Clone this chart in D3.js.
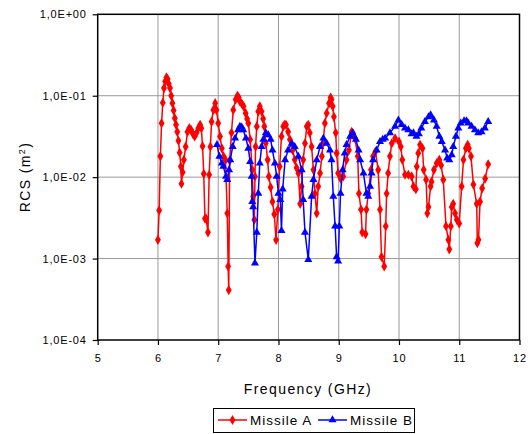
<!DOCTYPE html>
<html>
<head>
<meta charset="utf-8">
<script src="https://cdn.jsdelivr.net/npm/d3@7"></script>
<style>
  body { margin: 0; background: #fff; }
  text { font-family: "Liberation Sans", Arial, sans-serif; fill: #000; }
</style>
</head>
<body>
<script>
// chart values
const xTicks = [5, 6, 7, 8, 9, 10, 11, 12];
const yTicks = [1, 0.1, 0.01, 0.001, 0.0001];
const yTickLabels = ["1,0E+00", "1,0E-01", "1,0E-02", "1,0E-03", "1,0E-04"];
const seriesNames = ["Missile A", "Missile B"];

const freqA = [6.00, 6.02, 6.04, 6.06, 6.08, 6.10, 6.12, 6.14, 6.16, 6.18, 6.20, 6.22, 6.24, 6.26, 6.28, 6.30,
  6.32, 6.34, 6.36, 6.38, 6.39, 6.41, 6.43, 6.46, 6.49, 6.52, 6.55, 6.58, 6.61, 6.64, 6.67, 6.70, 6.72, 6.74,
  6.76, 6.78, 6.80, 6.83, 6.85, 6.87, 6.89, 6.92, 6.95, 6.97, 7.00, 7.03, 7.06, 7.09, 7.12, 7.15, 7.165, 7.175,
  7.19, 7.22, 7.25, 7.29, 7.32, 7.34, 7.36, 7.39, 7.42, 7.455, 7.48, 7.50, 7.53, 7.565, 7.58, 7.60, 7.61, 7.62,
  7.64, 7.665, 7.69, 7.72, 7.745, 7.765, 7.79, 7.82, 7.84, 7.87, 7.90, 7.93, 7.96, 7.99, 8.02, 8.05, 8.08, 8.10,
  8.125, 8.16, 8.19, 8.235, 8.27, 8.30, 8.33, 8.36, 8.385, 8.41, 8.44, 8.47, 8.495, 8.52, 8.55, 8.58, 8.605, 8.635,
  8.66, 8.69, 8.72, 8.74, 8.77, 8.80, 8.84, 8.865, 8.88, 8.90, 8.92, 8.95, 8.965, 8.99, 9.03, 9.075, 9.13, 9.17,
  9.215, 9.24, 9.27, 9.315, 9.335, 9.37, 9.39, 9.445, 9.46, 9.49, 9.535, 9.57, 9.61, 9.655, 9.685, 9.71, 9.755,
  9.78, 9.795, 9.82, 9.85, 9.88, 9.935, 10.00, 10.03, 10.055, 10.10, 10.155, 10.21, 10.24, 10.28, 10.295, 10.32,
  10.35, 10.39, 10.41, 10.45, 10.47, 10.49, 10.525, 10.54, 10.58, 10.625, 10.67, 10.70, 10.735, 10.78, 10.82,
  10.835, 10.86, 10.875, 10.90, 10.93, 10.96, 11.00, 11.04, 11.07, 11.11, 11.14, 11.16, 11.195, 11.235, 11.29,
  11.30, 11.32, 11.345, 11.38, 11.43, 11.48];
const rcsA = [0.0017, 0.0039, 0.018, 0.046, 0.082, 0.124, 0.15, 0.168, 0.16, 0.14, 0.124, 0.10, 0.081, 0.066, 0.053, 0.044,
  0.036, 0.028, 0.020, 0.0135, 0.0083, 0.0115, 0.0163, 0.0237, 0.036, 0.040, 0.038, 0.034, 0.0316, 0.035, 0.040, 0.044, 0.040, 0.024,
  0.011, 0.0031, 0.0031, 0.0021, 0.0107, 0.0237, 0.048, 0.067, 0.081, 0.067, 0.046, 0.0316, 0.0226, 0.0179, 0.0163, 0.0036, 0.0008, 0.00041,
  0.016, 0.035, 0.067, 0.09, 0.10, 0.095, 0.085, 0.08, 0.074, 0.061, 0.052, 0.046, 0.029, 0.0123, 0.0058, 0.0030, 0.0102, 0.0237,
  0.042, 0.064, 0.074, 0.064, 0.052, 0.042, 0.026, 0.0163, 0.0102, 0.0075, 0.005, 0.0035, 0.0017, 0.004, 0.0135, 0.0316, 0.042, 0.044,
  0.044, 0.036, 0.029, 0.0215, 0.0163, 0.013, 0.0112, 0.0047, 0.0077, 0.0163, 0.026, 0.042, 0.044, 0.035, 0.0237, 0.0123, 0.0063, 0.0036,
  0.0077, 0.0112, 0.018, 0.026, 0.046, 0.061, 0.081, 0.095, 0.09, 0.074, 0.055, 0.035, 0.0197, 0.0112, 0.0096, 0.0102, 0.0163, 0.0215,
  0.036, 0.034, 0.030, 0.018, 0.0063, 0.004, 0.0021, 0.0020, 0.004, 0.0063, 0.0123, 0.018, 0.0206, 0.0123, 0.004, 0.00105, 0.0008,
  0.0025, 0.0063, 0.0112, 0.018, 0.026, 0.030, 0.0273, 0.0237, 0.0163, 0.0107, 0.0107, 0.0102, 0.0077, 0.0071, 0.0135, 0.0197,
  0.025, 0.0226, 0.0123, 0.0093, 0.0036, 0.0043, 0.0077, 0.0088, 0.0123, 0.0148, 0.0163, 0.014, 0.0093, 0.0025, 0.0017,
  0.0013, 0.0025, 0.0043, 0.0047, 0.0036, 0.0030, 0.0027, 0.0077, 0.0163, 0.0226, 0.025, 0.0226, 0.018, 0.0081, 0.0047,
  0.00155, 0.0017, 0.005, 0.0073, 0.0096, 0.0144];

const freqB = [6.98, 7.02, 7.06, 7.085, 7.13, 7.15, 7.18, 7.20, 7.24, 7.28, 7.33, 7.36, 7.39, 7.415, 7.46, 7.50,
  7.53, 7.555, 7.565, 7.58, 7.61, 7.64, 7.665, 7.69, 7.72, 7.75, 7.79, 7.83, 7.87, 7.90, 7.94, 7.97, 8.00, 8.03,
  8.05, 8.07, 8.11, 8.16, 8.22, 8.27, 8.33, 8.385, 8.41, 8.44, 8.495, 8.55, 8.58, 8.635, 8.69, 8.745, 8.80, 8.855,
  8.88, 8.91, 8.94, 8.965, 8.99, 9.01, 9.03, 9.065, 9.10, 9.13, 9.19, 9.23, 9.285, 9.33, 9.355, 9.41, 9.46, 9.49,
  9.52, 9.545, 9.57, 9.63, 9.685, 9.73, 9.77, 9.85, 9.935, 9.99, 10.045, 10.10, 10.155, 10.21, 10.24, 10.29, 10.33,
  10.37, 10.43, 10.49, 10.525, 10.58, 10.625, 10.67, 10.71, 10.765, 10.80, 10.835, 10.875, 10.90, 10.945, 10.985,
  11.025, 11.08, 11.12, 11.15, 11.205, 11.26, 11.315, 11.37, 11.425, 11.48];
const rcsB = [0.025, 0.018, 0.0148, 0.0135, 0.0102, 0.0093, 0.0123, 0.0163, 0.0237, 0.030, 0.038, 0.042, 0.041, 0.038, 0.030, 0.0226,
  0.0155, 0.0102, 0.005, 0.0043, 0.00088, 0.0021, 0.0063, 0.0148, 0.0237, 0.029, 0.035, 0.033, 0.029, 0.0215, 0.0148, 0.0102, 0.0063, 0.0053,
  0.0022, 0.0071, 0.0163, 0.0215, 0.026, 0.0237, 0.018, 0.0123, 0.0053, 0.0021, 0.00097, 0.0058, 0.0093, 0.0163, 0.0237, 0.030, 0.026, 0.0215,
  0.0163, 0.0058, 0.0025, 0.00105, 0.00093, 0.0025, 0.0063, 0.0123, 0.0197, 0.025, 0.0316, 0.035, 0.029, 0.0215, 0.0163, 0.0112, 0.0063, 0.0058,
  0.0077, 0.0112, 0.0163, 0.0215, 0.0273, 0.029, 0.030, 0.035, 0.042, 0.050, 0.044, 0.040, 0.038, 0.034, 0.035, 0.0316, 0.034,
  0.040, 0.048, 0.055, 0.058, 0.050, 0.042, 0.0316, 0.0273, 0.0215, 0.0171, 0.0163, 0.0187, 0.0237, 0.0316, 0.040,
  0.046, 0.049, 0.049, 0.046, 0.042, 0.038, 0.035, 0.036, 0.040, 0.048];

const width = 530, height = 434;
const plot = { left: 97.7, right: 519.5, top: 14.3, bottom: 340 };

const svg = d3.select("body").append("svg")
  .attr("width", width)
  .attr("height", height);

const x = d3.scaleLinear().domain([5, 12]).range([plot.left, plot.right]);
const y = d3.scaleLog().domain([1e-4, 1]).range([plot.bottom, plot.top]);

// grid lines
svg.append("g").selectAll("line.vx")
  .data(xTicks.slice(1, -1))
  .join("line")
  .attr("x1", d => x(d)).attr("x2", d => x(d))
  .attr("y1", plot.top).attr("y2", plot.bottom)
  .attr("stroke", "#999").attr("stroke-width", 1);
svg.append("g").selectAll("line.hy")
  .data(yTicks.slice(1, -1))
  .join("line")
  .attr("x1", plot.left).attr("x2", plot.right)
  .attr("y1", d => y(d)).attr("y2", d => y(d))
  .attr("stroke", "#999").attr("stroke-width", 1);

// frame
svg.append("rect")
  .attr("x", plot.left).attr("y", plot.top)
  .attr("width", plot.right - plot.left).attr("height", plot.bottom - plot.top)
  .attr("fill", "none").attr("stroke", "#000").attr("stroke-width", 1.5);

// axes
const xAxis = svg.append("g")
  .attr("transform", `translate(0,${plot.bottom})`)
  .call(d3.axisBottom(x).tickValues(xTicks).tickSize(5).tickPadding(9).tickFormat(d3.format("d")));
const yAxis = svg.append("g")
  .attr("transform", `translate(${plot.left},0)`)
  .call(d3.axisLeft(y).tickValues(yTicks).tickSize(5).tickPadding(6)
    .tickFormat((d, i) => yTickLabels[i]));

[xAxis, yAxis].forEach(a => {
  a.select(".domain").remove();
  a.selectAll(".tick line").attr("stroke", "#000").attr("stroke-width", 1.2);
  a.selectAll(".tick text")
    .style("font-family", "'Liberation Sans', Arial, sans-serif")
    .style("font-size", "11px")
    .style("letter-spacing", "0.8px")
    .attr("fill", "#000");
});

// axis titles
svg.append("text")
  .attr("x", 308).attr("y", 394)
  .attr("text-anchor", "middle")
  .style("font-size", "14px").style("letter-spacing", "1.4px")
  .text("Frequency (GHz)");

const yTitle = svg.append("text")
  .attr("transform", "translate(30,177) rotate(-90)")
  .attr("text-anchor", "middle")
  .style("font-size", "14px").style("letter-spacing", "1.4px");
yTitle.append("tspan").text("RCS (m");
yTitle.append("tspan").attr("dy", -5).style("font-size", "9px").text("2");
yTitle.append("tspan").attr("dy", 5).text(")");

// series
const line = d3.line().x(d => x(d[0])).y(d => y(d[1]));
const series = [
  { name: seriesNames[0], pts: d3.zip(freqA, rcsA), color: "#ff0000", symbol: d3.symbolDiamond, size: 30 },
  { name: seriesNames[1], pts: d3.zip(freqB, rcsB), color: "#0000ff", symbol: d3.symbolTriangle, size: 28 }
];

series.forEach(s => {
  svg.append("path")
    .datum(s.pts)
    .attr("d", line)
    .attr("fill", "none")
    .attr("stroke", s.color)
    .attr("stroke-width", 1.5);
  svg.append("g").selectAll("path")
    .data(s.pts)
    .join("path")
    .attr("transform", d => `translate(${x(d[0])},${y(d[1])})`)
    .attr("d", d3.symbol().type(s.symbol).size(s.size))
    .attr("fill", s.color);
});

// legend
const legend = svg.append("g");
legend.append("rect")
  .attr("x", 213.5).attr("y", 408.5)
  .attr("width", 201).attr("height", 24)
  .attr("fill", "#fff").attr("stroke", "#000").attr("stroke-width", 1);
const legendX = [218, 318];
series.forEach((s, i) => {
  const g = legend.append("g").attr("transform", `translate(${legendX[i]},420)`);
  g.append("line").attr("x1", 0).attr("x2", 29).attr("stroke", s.color).attr("stroke-width", 1.5);
  g.append("path").attr("transform", "translate(14.5,0)")
    .attr("d", d3.symbol().type(s.symbol).size(s.size)).attr("fill", s.color);
  g.append("text").attr("x", 32).attr("y", 5)
    .style("font-size", "13.5px").style("letter-spacing", "1px")
    .text(s.name);
});
</script>
</body>
</html>
